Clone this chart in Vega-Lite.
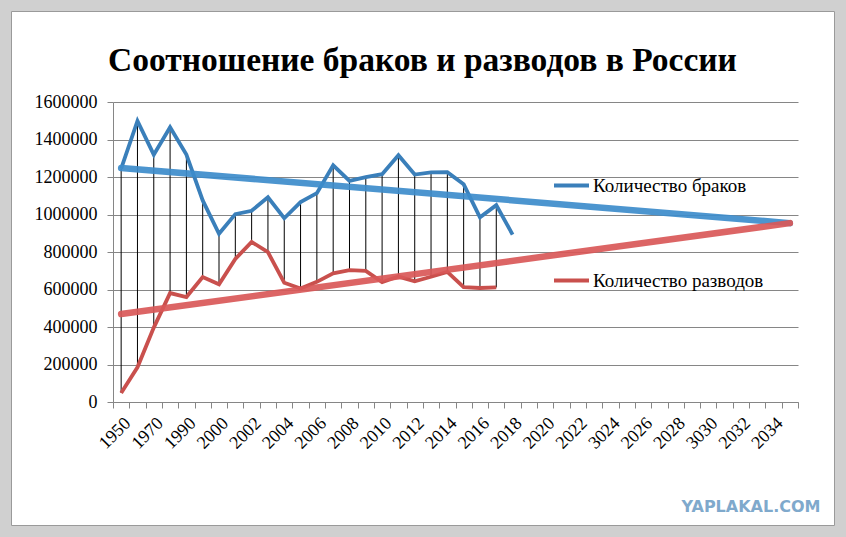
{
  "$schema": "https://vega.github.io/schema/vega-lite/v6.json",
  "width": 823,
  "height": 514,
  "autosize": "none",
  "padding": {"left": 11, "top": 11, "right": 12, "bottom": 12},
  "background": "#d0d0d0",
  "title": {
    "text": "Соотношение браков и разводов в России",
    "font": "Liberation Serif",
    "fontSize": 33.5,
    "fontWeight": "bold",
    "color": "black",
    "anchor": "middle",
    "baseline": "alphabetic",
    "offset": -93
  },
  "datasets": {
    "series": [
      {"year": "1950", "series": "Количество браков", "value": 1245000},
      {"year": "1960", "series": "Количество браков", "value": 1499000},
      {"year": "1970", "series": "Количество браков", "value": 1319000},
      {"year": "1980", "series": "Количество браков", "value": 1465000},
      {"year": "1990", "series": "Количество браков", "value": 1320000},
      {"year": "1995", "series": "Количество браков", "value": 1075000},
      {"year": "2000", "series": "Количество браков", "value": 897000},
      {"year": "2001", "series": "Количество браков", "value": 1002000},
      {"year": "2002", "series": "Количество браков", "value": 1020000},
      {"year": "2003", "series": "Количество браков", "value": 1092000},
      {"year": "2004", "series": "Количество браков", "value": 980000},
      {"year": "2005", "series": "Количество браков", "value": 1066000},
      {"year": "2006", "series": "Количество браков", "value": 1114000},
      {"year": "2007", "series": "Количество браков", "value": 1262000},
      {"year": "2008", "series": "Количество браков", "value": 1179000},
      {"year": "2009", "series": "Количество браков", "value": 1199000},
      {"year": "2010", "series": "Количество браков", "value": 1215000},
      {"year": "2011", "series": "Количество браков", "value": 1316000},
      {"year": "2012", "series": "Количество браков", "value": 1213000},
      {"year": "2013", "series": "Количество браков", "value": 1225000},
      {"year": "2014", "series": "Количество браков", "value": 1226000},
      {"year": "2015", "series": "Количество браков", "value": 1161000},
      {"year": "2016", "series": "Количество браков", "value": 985000},
      {"year": "2017", "series": "Количество браков", "value": 1050000},
      {"year": "2018", "series": "Количество браков", "value": 893000},
      {"year": "1950", "series": "Количество разводов", "value": 48000},
      {"year": "1960", "series": "Количество разводов", "value": 185000},
      {"year": "1970", "series": "Количество разводов", "value": 397000},
      {"year": "1980", "series": "Количество разводов", "value": 581000},
      {"year": "1990", "series": "Количество разводов", "value": 560000},
      {"year": "1995", "series": "Количество разводов", "value": 666000},
      {"year": "2000", "series": "Количество разводов", "value": 628000},
      {"year": "2001", "series": "Количество разводов", "value": 763000},
      {"year": "2002", "series": "Количество разводов", "value": 854000},
      {"year": "2003", "series": "Количество разводов", "value": 799000},
      {"year": "2004", "series": "Количество разводов", "value": 636000},
      {"year": "2005", "series": "Количество разводов", "value": 605000},
      {"year": "2006", "series": "Количество разводов", "value": 641000},
      {"year": "2007", "series": "Количество разводов", "value": 686000},
      {"year": "2008", "series": "Количество разводов", "value": 703000},
      {"year": "2009", "series": "Количество разводов", "value": 699000},
      {"year": "2010", "series": "Количество разводов", "value": 639000},
      {"year": "2011", "series": "Количество разводов", "value": 669000},
      {"year": "2012", "series": "Количество разводов", "value": 644000},
      {"year": "2013", "series": "Количество разводов", "value": 668000},
      {"year": "2014", "series": "Количество разводов", "value": 694000},
      {"year": "2015", "series": "Количество разводов", "value": 612000},
      {"year": "2016", "series": "Количество разводов", "value": 608000},
      {"year": "2017", "series": "Количество разводов", "value": 611000}
    ],
    "trend": [
      {"year": "1950", "s": "b", "value": 1248000},
      {"year": "2035", "s": "b", "value": 954000},
      {"year": "1950", "s": "r", "value": 469000},
      {"year": "2035", "s": "r", "value": 954000}
    ]
  },
  "encoding": {
    "x": {
      "field": "year",
      "type": "ordinal",
      "bandPosition": 0.5,
      "scale": {
        "type": "band",
        "paddingInner": 0,
        "paddingOuter": 0,
        "range": [102, 787],
        "domain": ["1950","1960","1970","1980","1990","1995","2000","2001","2002","2003","2004","2005","2006","2007","2008","2009","2010","2011","2012","2013","2014","2015","2016","2017","2018","2019","2020","2021","2022","2023","3024","2025","2026","2027","2028","2029","3030","2031","2032","2033","2034","2035"]
      },
      "axis": {
        "offset": -123,
        "grid": false,
        "title": "YAPLAKAL.COM",
        "titleFont": "DejaVu Sans",
        "titleFontWeight": "bold",
        "titleFontSize": 16,
        "titleColor": "#7fa9cc",
        "titleAlign": "right",
        "titleBaseline": "alphabetic",
        "titleX": 809,
        "titleY": 109,
        "domainColor": "#868686",
        "tickColor": "#868686",
        "tickSize": 6,
        "tickBand": "extent",
        "labelAngle": -45,
        "labelFont": "Liberation Serif",
        "labelFontSize": 18,
        "labelColor": "black",
        "labelPadding": 6,
        "labelOverlap": false,
        "labelBound": false,
        "labelFlush": false,
        "labelExpr": "test(/^(1960|1980|1995|20[0-3][13579])$/, datum.label) ? '' : datum.label"
      }
    }
  },
  "layer": [
    {
      "data": {"name": "series"},
      "transform": [
        {"aggregate": [
          {"op": "max", "field": "value", "as": "hi"},
          {"op": "min", "field": "value", "as": "lo"},
          {"op": "count", "as": "n"}
        ], "groupby": ["year"]},
        {"filter": "datum.n == 2"}
      ],
      "mark": {"type": "rule", "color": "black", "strokeWidth": 1},
      "encoding": {
        "y": {
          "field": "hi",
          "type": "quantitative",
          "scale": {"domain": [0, 1600000], "range": [391, 91], "nice": false},
          "axis": {
            "offset": -102,
            "title": null,
            "values": [0, 200000, 400000, 600000, 800000, 1000000, 1200000, 1400000, 1600000],
            "format": "d",
            "grid": true,
            "gridColor": "#868686",
            "domainColor": "#868686",
            "tickColor": "#868686",
            "tickSize": 6,
            "labelFont": "Liberation Serif",
            "labelFontSize": 18,
            "labelColor": "black",
            "labelPadding": 10,
            "labelOverlap": false
          }
        },
        "y2": {"field": "lo"}
      }
    },
    {
      "data": {"name": "series"},
      "mark": {"type": "line", "strokeWidth": 3.8, "strokeJoin": "miter"},
      "encoding": {
        "y": {"field": "value", "type": "quantitative"},
        "color": {
          "field": "series",
          "type": "nominal",
          "scale": {
            "domain": ["Количество браков", "Количество разводов"],
            "range": ["#3a7fba", "#c9504d"]
          },
          "legend": {
            "orient": "none",
            "legendX": 541,
            "legendY": 155,
            "title": null,
            "symbolType": "stroke",
            "symbolSize": 1225,
            "symbolStrokeWidth": 4,
            "labelFont": "Liberation Serif",
            "labelFontSize": 19,
            "labelColor": "black",
            "labelOffset": 2,
            "labelLimit": 300,
            "rowPadding": 65
          }
        }
      }
    },
    {
      "data": {"name": "trend"},
      "mark": {"type": "line", "strokeWidth": 6.5, "opacity": 0.92, "strokeCap": "round"},
      "encoding": {
        "y": {"field": "value", "type": "quantitative"},
        "detail": {"field": "s"},
        "color": {
          "condition": {"test": "datum.s == 'b'", "value": "#3d8ccb"},
          "value": "#d95858"
        }
      }
    }
  ],
  "config": {
    "view": {"fill": "white", "stroke": "#9a9a9a", "strokeWidth": 1}
  }
}
